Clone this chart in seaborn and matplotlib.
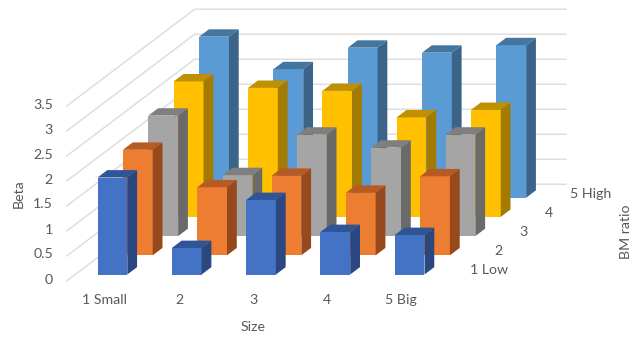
import matplotlib
matplotlib.use("Agg")
import matplotlib.pyplot as plt
import numpy as np
import seaborn as sns

# Beta by size quintile (columns) for each book-to-market row, front to back
sizes = ["1 Small", "2", "3", "4", "5 Big"]
bm_ratios = ["1 Low", "2", "3", "4", "5 High"]
beta_low = [1.94, 0.53, 1.49, 0.85, 0.79]
beta_2 = [2.11, 1.36, 1.59, 1.25, 1.58]
beta_3 = [2.41, 1.22, 2.03, 1.77, 2.03]
beta_4 = [2.71, 2.58, 2.52, 1.99, 2.14]
beta_high = [3.22, 2.57, 3.00, 2.90, 3.05]
value_ticks = [0, 0.5, 1, 1.5, 2, 2.5, 3, 3.5]
series = [beta_low, beta_2, beta_3, beta_4, beta_high]

# front, top and side face colours per row
front_colors = ["#4472C4", "#ED7D31", "#A5A5A5", "#FFC000", "#5B9BD5"]
top_colors = ["#2F5597", "#B85A24", "#7F7F7F", "#BF9000", "#44769F"]
side_colors = ["#2A4780", "#95491C", "#6A6A6A", "#A37B00", "#3A6488"]

# Oblique projection: depth shifts a point right and up in the axes' own units
X_PER_DEPTH = 0.342
Y_PER_DEPTH = 0.384
BAR_WIDTH = 0.401
BAR_DEPTH = 0.385
FLOOR_FRONT, FLOOR_BACK = -0.34, 4.70


def proj(i, value, depth):
    return i + depth * X_PER_DEPTH, value + depth * Y_PER_DEPTH


sns.set_theme(style="white")
plt.rcParams["font.family"] = ["Lato", "DejaVu Sans"]
TEXT = "#595959"
FONT = 10.2

fig = plt.figure(figsize=(6.34, 3.37), dpi=100)
ax = fig.add_axes([0, 0, 1, 1])

# Walls: diagonal lines on the left wall, horizontal lines on the back wall
for v in value_ticks:
    xa, ya = proj(-0.5, v, FLOOR_FRONT)
    xb, yb = proj(-0.5, v, FLOOR_BACK)
    xc, yc = proj(4.5, v, FLOOR_BACK)
    ax.plot([xa, xb, xc], [ya, yb, yc], color="#DEDEDE", lw=1.1, zorder=0,
            solid_joinstyle="miter")

half = BAR_WIDTH / 2
for d in range(len(series) - 1, -1, -1):
    values = series[d]
    z = 10 - d
    x_pos = [i + d * X_PER_DEPTH for i in range(len(values))]
    _, base = proj(0, 0, d)
    sns.barplot(x=x_pos, y=values, bottom=base, native_scale=True,
                width=BAR_WIDTH, color=front_colors[d], saturation=1,
                linewidth=0, errorbar=None, zorder=z, ax=ax)
    for i, v in enumerate(values):
        corners_top = [proj(i - half, v, d), proj(i + half, v, d),
                       proj(i + half, v, d + BAR_DEPTH), proj(i - half, v, d + BAR_DEPTH)]
        corners_side = [proj(i + half, 0, d), proj(i + half, v, d),
                        proj(i + half, v, d + BAR_DEPTH), proj(i + half, 0, d + BAR_DEPTH)]
        ax.fill(*zip(*corners_top), color=top_colors[d], lw=0, zorder=z)
        ax.fill(*zip(*corners_side), color=side_colors[d], lw=0, zorder=z)

# Data limits chosen so one size step is 74.3 px and one beta unit is 50 px
ax.set_xlim((0 - 112.4) / 74.3, (634 - 112.4) / 74.3)
ax.set_ylim((274.5 - 337) / 50, 274.5 / 50)
ax.set_axis_off()
to_x = lambda px: (px - 112.4) / 74.3
to_y = lambda py: (274.5 - py) / 50

for v in value_ticks:
    ax.text(to_x(53), to_y(279.5 - 50 * v), f"{v:g}", ha="right", va="center",
            color=TEXT, fontsize=FONT)
for k, label in enumerate(sizes):
    ax.text(to_x(105 + 74 * k), to_y(300), label, ha="center", va="center",
            color=TEXT, fontsize=FONT)
for label, px, py in zip(bm_ratios, [470, 494, 519, 545, 570], [270, 251, 232, 213, 194]):
    ax.text(to_x(px), to_y(py), label, ha="left", va="center",
            color=TEXT, fontsize=FONT)

ax.text(to_x(19), to_y(194), "Beta", rotation=90, ha="center", va="center",
        color=TEXT, fontsize=FONT)
ax.text(to_x(253), to_y(327), "Size", ha="center", va="center",
        color=TEXT, fontsize=FONT)
ax.text(to_x(626), to_y(232), "BM ratio", rotation=90, ha="center", va="center",
        color=TEXT, fontsize=FONT)

fig.savefig("out.png", dpi=100, facecolor="white")
